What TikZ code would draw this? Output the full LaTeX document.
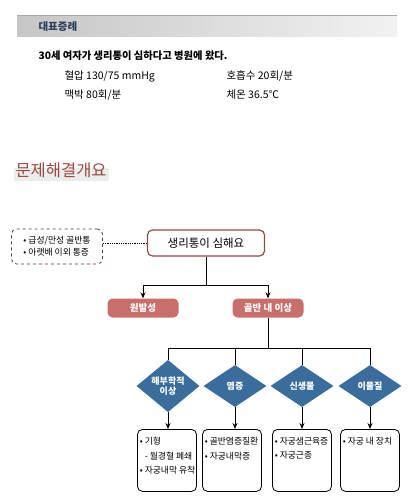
\documentclass[tikz,border=0pt]{standalone}
\usepackage{fontspec}
\setmainfont{Noto Sans CJK KR}
\usepackage{tikz}
\usetikzlibrary{arrows.meta,positioning,shapes.geometric,shapes.misc}
\definecolor{titlebrown}{HTML}{9A4A40}
\definecolor{boxbrown}{HTML}{8E4A44}
\definecolor{pinkfill}{HTML}{C86F6C}
\definecolor{diablue}{HTML}{3A6D9C}
\definecolor{headnavy}{HTML}{2E3F5C}

\begin{document}
\begin{tikzpicture}[x=1pt,y=-1pt,
  font=\fontsize{10.5}{12}\selectfont,
  mainbox/.style={draw=boxbrown, line width=1.2pt, rounded corners=5pt, minimum width=117pt, minimum height=26pt, font=\fontsize{11.5}{14}\selectfont},
  cause/.style={fill=pinkfill, rounded corners=5pt, text=white, minimum width=71pt, minimum height=19pt, font=\fontsize{9.5}{10}\selectfont\bfseries},
  kind/.style={diamond, fill=diablue, text=white, minimum width=63pt, minimum height=42pt, inner sep=0pt, align=center, font=\fontsize{9}{10.5}\selectfont\bfseries},
  listbox/.style={draw, rounded corners=5pt, thick, minimum height=62pt, minimum width=59pt},
  listtext/.style={anchor=north west, align=left, inner sep=0pt, font=\fontsize{8.8}{14.5}\selectfont},
  arr/.style={-{Stealth[length=6pt,width=5pt]}, thick},
  ln/.style={thin}]
\useasboundingbox (0,0) rectangle (409,500);

% case box
\shade[left color=gray!45, right color=gray!10] (17,16) rectangle (397,37);
\draw[gray!70, line width=1pt] (17,16) -- (397,16);
\node[anchor=west, text=headnavy, font=\fontsize{10.5}{11}\selectfont\bfseries] (head) at (35,27) {대표증례};
\node[anchor=west, font=\fontsize{10.3}{12}\selectfont\bfseries] (case) at (35,56) {30세 여자가 생리통이 심하다고 병원에 왔다.};
\node[anchor=west] (bp) at (61,76) {혈압 130/75 mmHg};
\node[anchor=west] (rr) at (223,76) {호흡수 20회/분};
\node[anchor=west] (pr) at (61,95) {맥박 80회/분};
\node[anchor=west] (bt) at (223,95) {체온 36.5℃};

% title
\fill[gray!15] (14,168) rectangle (109,181);
\node[anchor=west, text=titlebrown, font=\fontsize{16.5}{18}\selectfont] (title) at (12,170) {문제해결개요};

% flow
\node[mainbox] (pain) at (206,243) {생리통이 심해요};
\node[draw=boxbrown!70!black, dashed, thick, rounded corners=5pt, minimum width=91pt, minimum height=35pt, align=left, inner sep=2pt, font=\fontsize{8.8}{12}\selectfont] (other) at (57,246.5) {• 급성/만성 골반통\\• 아랫배 이외 통증};
\draw[densely dotted, thick] (other.east |- pain) -- (pain.west);

\node[cause] (prim) at (143,308) {원발성};
\node[cause] (pelvic) at (268,308) {골반 내 이상};
\coordinate (split1) at (206,285);
\draw[ln] (pain.south) -- (split1);
\draw[ln] (prim.north |- split1) -- (pelvic.north |- split1);
\draw[arr] (prim.north |- split1) -- (prim.north);
\draw[arr] (pelvic.north |- split1) -- (pelvic.north);

\foreach \n/\x/\t in {anat/168/해부학적\\이상, infl/235/염증, neo/302/신생물, fb/370/이물질}
  \node[kind] (\n) at (\x,386) {\t};

\coordinate (split2) at (268,348);
\draw[ln] (pelvic.south) -- (split2);
\draw[ln] (anat.north |- split2) -- (fb.north |- split2);
\foreach \n in {anat,infl,neo,fb}
  \draw[ln] (\n.north |- split2) -- (\n.north);

\node[listbox, anchor=north] (l1) at (167,429) {};
\node[listbox, anchor=north] (l2) at (232,429) {};
\node[listbox, anchor=north] (l3) at (302,429) {};
\node[listbox, anchor=north] (l4) at (370,429) {};
\node[listtext] (t1) at ([xshift=2.5pt,yshift=-8pt]l1.north west) {• 기형\\\hspace{5pt}- 월경혈 폐쇄\\• 자궁내막 유착};
\node[listtext] (t2) at ([xshift=2.5pt,yshift=-8pt]l2.north west) {• 골반염증질환\\• 자궁내막증};
\node[listtext] (t3) at ([xshift=2.5pt,yshift=-8pt]l3.north west) {• 자궁샘근육증\\• 자궁근종};
\node[listtext] (t4) at ([xshift=2.5pt,yshift=-8pt]l4.north west) {• 자궁 내 장치};

\foreach \a/\b in {anat/l1, infl/l2, neo/l3, fb/l4}
  \draw[arr] (\a.south) -- (\a.south |- \b.north);
\end{tikzpicture}
\end{document}
